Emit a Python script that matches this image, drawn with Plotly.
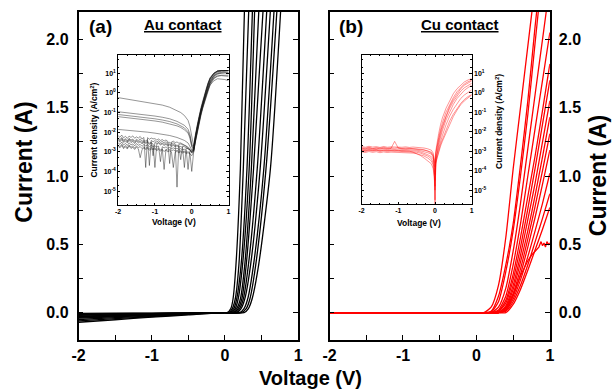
import numpy as np
import plotly.graph_objects as go

FONT = "Liberation Sans, Arial, sans-serif"

# ---------------- Main panel (a): Au contact, I-V (A) ----------------
AU_V_REV = [-2.0, -1.5, -1.0, -0.5, 0.0]
AU_I_REV = [
    [-0.005, -0.004, -0.003, -0.001, 0.0],
    [-0.010, -0.007, -0.005, -0.002, 0.0],
    [-0.015, -0.011, -0.007, -0.003, 0.0],
    [-0.020, -0.015, -0.010, -0.005, 0.0],
    [-0.025, -0.018, -0.012, -0.006, 0.0],
    [-0.030, -0.022, -0.014, -0.007, 0.0],
    [-0.035, -0.026, -0.017, -0.008, 0.0],
    [-0.040, -0.030, -0.019, -0.009, 0.0],
    [-0.050, -0.037, -0.024, -0.011, 0.0],
    [-0.060, -0.044, -0.028, -0.013, 0.0],
    [-0.070, -0.052, -0.033, -0.016, 0.0],
]
AU_I_FWD_LEVELS = [0.0, 0.03, 0.1, 0.35, 1.05, 2.3]
AU_V_FWD = [
    [0.03, 0.08, 0.11, 0.15, 0.21, 0.27],
    [0.05, 0.10, 0.14, 0.19, 0.25, 0.33],
    [0.06, 0.12, 0.16, 0.22, 0.30, 0.38],
    [0.08, 0.14, 0.18, 0.24, 0.33, 0.41],
    [0.10, 0.16, 0.21, 0.27, 0.36, 0.47],
    [0.12, 0.18, 0.23, 0.29, 0.39, 0.53],
    [0.14, 0.20, 0.25, 0.32, 0.44, 0.58],
    [0.16, 0.22, 0.27, 0.35, 0.48, 0.63],
    [0.20, 0.26, 0.31, 0.39, 0.53, 0.68],
    [0.22, 0.29, 0.34, 0.42, 0.56, 0.72],
    [0.26, 0.32, 0.37, 0.46, 0.62, 0.77],
]

# ---------------- Main panel (b): Cu contact, I-V (A) ----------------
CU_V_REV = [-2.0, 0.0]
CU_I_REV = [0.0, 0.0]
CU_V_FWD = [0.1, 0.2, 0.3, 0.4, 0.5, 0.6, 0.7, 0.8, 0.9, 1.0]
CU_I_FWD = [
    [0.0, 0.04, 0.20, 0.55, 1.05, 1.50, 1.95, 2.40, 2.85, 3.30],
    [0.0, 0.01, 0.12, 0.35, 0.65, 1.08, 1.55, 2.10, 2.60, 3.10],
    [0.0, 0.005, 0.08, 0.30, 0.60, 1.00, 1.45, 1.98, 2.50, 3.00],
    [0.0, 0.0, 0.04, 0.18, 0.45, 0.80, 1.20, 1.60, 2.00, 2.40],
    [0.0, 0.0, 0.02, 0.12, 0.35, 0.65, 1.00, 1.35, 1.70, 2.05],
    [0.0, 0.0, 0.01, 0.09, 0.28, 0.55, 0.85, 1.15, 1.48, 1.82],
    [0.0, 0.0, 0.01, 0.07, 0.24, 0.48, 0.76, 1.06, 1.38, 1.70],
    [0.0, 0.0, 0.0, 0.05, 0.20, 0.42, 0.68, 0.95, 1.25, 1.55],
    [0.0, 0.0, 0.0, 0.04, 0.17, 0.37, 0.60, 0.86, 1.14, 1.43],
    [0.0, 0.0, 0.0, 0.03, 0.14, 0.32, 0.54, 0.78, 1.04, 1.31],
    [0.0, 0.0, 0.0, 0.02, 0.12, 0.28, 0.48, 0.70, 0.94, 1.19],
    [0.0, 0.0, 0.0, 0.02, 0.10, 0.24, 0.41, 0.60, 0.80, 1.02],
    [0.0, 0.0, 0.0, 0.01, 0.08, 0.20, 0.35, 0.52, 0.69, 0.87],
    [0.0, 0.0, 0.0, 0.0, 0.06, 0.17, 0.31, 0.46, 0.61, 0.77],
]
CU_SAT_V = [0.1, 0.2, 0.3, 0.4, 0.5, 0.6, 0.7, 0.75, 0.8, 0.85, 0.88, 0.9, 0.92, 0.94, 0.96, 0.98, 1.0]
CU_SAT_I = [0.0, 0.0, 0.0, 0.03, 0.13, 0.27, 0.38, 0.42, 0.45, 0.48, 0.52, 0.49, 0.51, 0.48, 0.52, 0.50, 0.51]

# ---------------- Inset (a): log10 current density (A/cm2) ----------------
AU_IN_V_REV_COARSE = [-2.0, -1.8, -1.6, -1.4, -1.2, -1.0, -0.8, -0.6, -0.4, -0.3, -0.2, -0.1, -0.05, 0.0]
AU_IN_V_REV_FINE = [-2.0, -1.95, -1.9, -1.85, -1.8, -1.75, -1.7, -1.65, -1.6, -1.55,
                    -1.5, -1.45, -1.4, -1.35, -1.3, -1.25, -1.2, -1.15, -1.1, -1.05,
                    -1.0, -0.95, -0.9, -0.85, -0.8, -0.75, -0.7, -0.65, -0.6, -0.55,
                    -0.5, -0.45, -0.4, -0.35, -0.3, -0.25, -0.2, -0.15, -0.1, -0.05,
                    0.0]
AU_IN_V_FWD = [0.05, 0.1, 0.15, 0.2, 0.25, 0.3, 0.35, 0.4, 0.45, 0.5, 0.6, 0.7, 0.8, 0.9, 1.0]
AU_IN_LOGJ_SMOOTH_REV = [
    [-0.24, -0.30, -0.36, -0.42, -0.48, -0.54, -0.62, -0.73, -0.89, -1.00, -1.15, -1.40, -1.70, -2.30],
    [-0.96, -1.00, -1.04, -1.08, -1.13, -1.18, -1.24, -1.32, -1.45, -1.53, -1.65, -1.85, -2.10, -2.60],
    [-1.10, -1.14, -1.18, -1.22, -1.27, -1.32, -1.38, -1.46, -1.58, -1.66, -1.78, -1.98, -2.20, -2.70],
    [-1.21, -1.25, -1.29, -1.33, -1.38, -1.43, -1.49, -1.57, -1.68, -1.76, -1.88, -2.05, -2.30, -2.75],
    [-1.86, -1.89, -1.92, -1.96, -2.00, -2.05, -2.10, -2.17, -2.27, -2.33, -2.42, -2.55, -2.70, -2.90],
]
AU_IN_LOGJ_SMOOTH_FWD = [
    [-2.70, -2.10, -1.60, -1.15, -0.75, -0.40, -0.05, 0.30, 0.55, 0.78, 1.00, 1.10, 1.14, 1.14, 1.14],
    [-2.80, -2.20, -1.70, -1.25, -0.85, -0.50, -0.15, 0.20, 0.48, 0.72, 0.98, 1.10, 1.14, 1.14, 1.14],
    [-2.85, -2.25, -1.75, -1.30, -0.90, -0.55, -0.20, 0.12, 0.40, 0.62, 0.88, 0.98, 1.02, 1.04, 1.05],
    [-2.90, -2.30, -1.80, -1.35, -0.95, -0.60, -0.28, 0.02, 0.28, 0.50, 0.76, 0.86, 0.90, 0.90, 0.90],
    [-2.95, -2.40, -1.90, -1.45, -1.05, -0.70, -0.38, -0.08, 0.18, 0.40, 0.62, 0.72, 0.70, 0.68, 0.62],
]
AU_IN_LOGJ_NOISY_REV = [
    [-2.18, -2.26, -2.15, -2.29, -2.21, -2.32, -2.20, -2.27, -2.19, -2.31,
     -2.24, -2.30, -2.22, -2.35, -2.27, -3.80, -2.28, -2.36, -2.30, -2.34,
     -2.33, -2.40, -2.35, -2.42, -2.38, -2.45, -2.40, -2.47, -3.60, -2.50,
     -2.46, -2.53, -2.50, -2.56, -2.55, -2.60, -2.64, -2.70, -2.76, -2.84,
     -2.95],
    [-2.30, -2.38, -2.27, -2.41, -2.33, -2.44, -2.31, -2.40, -2.35, -2.46,
     -2.36, -2.43, -2.34, -2.47, -2.40, -2.45, -2.38, -3.70, -2.42, -2.49,
     -2.43, -2.50, -2.44, -2.52, -2.47, -2.55, -2.49, -2.56, -2.52, -2.58,
     -2.55, -2.60, -4.80, -2.62, -2.60, -2.66, -2.68, -2.72, -2.80, -2.88,
     -3.00],
    [-2.42, -2.50, -2.38, -2.52, -2.45, -2.55, -2.41, -2.53, -2.47, -2.58,
     -2.46, -2.55, -2.49, -2.60, -2.50, -2.57, -2.52, -2.62, -2.55, -2.60,
     -3.80, -2.62, -2.56, -2.65, -2.60, -2.68, -2.62, -2.70, -2.65, -2.72,
     -2.68, -2.74, -2.70, -2.76, -2.73, -2.78, -3.80, -2.80, -2.85, -2.90,
     -3.00],
    [-2.55, -2.62, -2.50, -2.66, -2.57, -2.68, -2.54, -2.65, -2.60, -2.70,
     -2.58, -2.67, -2.62, -2.72, -2.63, -2.70, -2.65, -2.74, -2.68, -2.73,
     -2.70, -2.76, -2.71, -3.50, -2.74, -2.80, -2.75, -2.82, -2.78, -2.84,
     -2.80, -2.85, -2.82, -2.88, -2.84, -2.90, -2.87, -2.92, -3.90, -2.95,
     -3.05],
    [-2.66, -2.74, -2.62, -2.78, -2.68, -2.80, -2.65, -2.77, -2.70, -2.82,
     -2.70, -2.79, -2.73, -2.84, -2.75, -2.82, -2.76, -2.86, -2.78, -2.84,
     -2.80, -2.88, -2.82, -2.90, -2.85, -3.90, -2.86, -2.92, -2.88, -2.95,
     -2.90, -2.96, -2.92, -2.98, -2.95, -3.00, -2.97, -3.02, -3.00, -3.05,
     -4.00],
    [-2.72, -2.80, -2.68, -2.84, -2.74, -2.86, -2.70, -2.83, -2.77, -2.88,
     -2.76, -2.85, -3.30, -2.90, -2.80, -2.88, -2.82, -2.92, -2.85, -2.90,
     -2.86, -2.94, -2.88, -2.96, -2.90, -2.98, -2.92, -3.00, -2.95, -3.02,
     -3.80, -3.02, -2.98, -3.05, -3.00, -3.06, -3.02, -3.08, -3.05, -3.10,
     -3.20],
    [-2.36, -2.44, -2.32, -2.47, -2.38, -2.50, -2.35, -2.46, -2.40, -2.52,
     -2.42, -2.49, -2.44, -2.54, -2.46, -2.52, -2.47, -2.56, -2.50, -3.20,
     -2.52, -2.58, -2.53, -2.60, -2.56, -2.62, -2.58, -2.64, -2.60, -2.66,
     -2.63, -2.68, -2.66, -2.70, -3.40, -2.72, -2.74, -2.78, -2.84, -2.90,
     -3.05],
]
AU_IN_LOGJ_NOISY_FWD = [
    [-2.80, -2.15, -1.65, -1.20, -0.80, -0.45, -0.10, 0.25, 0.52, 0.75, 1.00, 1.12, 1.14, 1.14, 1.14],
    [-2.90, -2.25, -1.75, -1.30, -0.90, -0.55, -0.20, 0.15, 0.45, 0.70, 0.95, 1.10, 1.14, 1.14, 1.14],
    [-2.95, -2.35, -1.85, -1.40, -1.00, -0.62, -0.28, 0.05, 0.35, 0.60, 0.90, 1.05, 1.10, 1.12, 1.14],
    [-3.00, -2.45, -1.95, -1.50, -1.10, -0.72, -0.38, -0.05, 0.25, 0.50, 0.80, 0.95, 1.00, 1.02, 1.02],
    [-3.05, -2.50, -2.00, -1.55, -1.15, -0.78, -0.45, -0.12, 0.18, 0.42, 0.72, 0.85, 0.88, 0.86, 0.84],
    [-3.00, -2.40, -1.90, -1.45, -1.05, -0.68, -0.32, 0.00, 0.30, 0.55, 0.85, 1.00, 1.06, 1.10, 1.12],
    [-2.85, -2.20, -1.70, -1.25, -0.85, -0.50, -0.15, 0.20, 0.50, 0.74, 1.00, 1.12, 1.14, 1.14, 1.14],
]

# ---------------- Inset (b): log10 current density (A/cm2) ----------------
CU_IN_V_REV = [-2.0, -1.9, -1.8, -1.7, -1.6, -1.5, -1.4, -1.3, -1.2, -1.1,
               -1.0, -0.9, -0.8, -0.7, -0.6, -0.5, -0.4, -0.3, -0.2, -0.1,
               -0.05, -0.02, 0.0]
CU_IN_V_FWD = [0.02, 0.05, 0.1, 0.15, 0.2, 0.3, 0.4, 0.5, 0.6, 0.7, 0.8, 0.9, 1.0]
CU_IN_LOGJ_REV = [
    [-2.76, -2.80, -2.75, -2.79, -2.77, -2.81, -2.76, -2.80, -2.78, -2.79,
     -2.77, -2.80, -2.78, -2.81, -2.79, -2.80, -2.82, -2.84, -2.88, -2.95, -3.10, -3.40, -3.60],
    [-2.82, -2.85, -2.80, -2.86, -2.83, -2.84, -2.81, -2.86, -2.83, -2.85,
     -2.82, -2.86, -2.84, -2.85, -2.86, -2.88, -2.90, -2.93, -2.98, -3.05, -3.20, -3.50, -3.80],
    [-2.88, -2.92, -2.86, -2.91, -2.89, -2.90, -2.87, -2.92, -2.88, -2.91,
     -2.89, -2.90, -2.92, -2.91, -2.93, -2.95, -2.98, -3.02, -3.08, -3.15, -3.30, -3.70, -6.00],
    [-2.93, -2.96, -2.91, -2.95, -2.92, -2.97, -2.93, -2.96, -2.94, -2.95,
     -2.93, -2.97, -2.95, -2.96, -2.98, -3.00, -3.04, -3.10, -3.18, -3.28, -3.40, -3.80, -4.50],
    [-2.98, -3.02, -2.96, -3.00, -2.97, -3.01, -2.98, -3.02, -2.99, -3.00,
     -2.98, -3.01, -3.00, -3.02, -3.03, -3.06, -3.10, -3.16, -3.25, -3.38, -3.60, -4.00, -5.00],
    [-3.04, -3.07, -3.02, -3.06, -3.03, -3.08, -3.04, -3.07, -3.05, -3.06,
     -3.04, -3.08, -3.06, -3.08, -3.10, -3.13, -3.18, -3.25, -3.35, -3.50, -3.70, -4.20, -4.80],
    [-2.85, -2.88, -2.83, -2.87, -2.84, -2.88, -2.85, -2.87, -2.86, -2.50,
     -2.85, -2.88, -2.86, -2.87, -2.88, -2.90, -2.92, -2.95, -3.00, -3.10, -3.25, -3.60, -4.20],
    [-2.95, -2.98, -2.94, -2.97, -2.95, -2.99, -2.96, -2.98, -2.97, -2.98,
     -2.96, -2.99, -2.98, -3.00, -3.05, -3.12, -3.22, -3.35, -3.50, -3.65, -3.90, -4.30, -5.50],
]
CU_IN_LOGJ_FWD = [
    [-3.00, -2.60, -2.10, -1.65, -1.30, -0.80, -0.38, -0.05, 0.20, 0.40, 0.55, 0.65, 0.72],
    [-3.10, -2.75, -2.30, -1.90, -1.55, -1.00, -0.58, -0.25, 0.05, 0.28, 0.45, 0.56, 0.64],
    [-3.40, -3.00, -2.55, -2.15, -1.80, -1.25, -0.80, -0.45, -0.15, 0.08, 0.25, 0.38, 0.48],
    [-3.50, -3.10, -2.70, -2.30, -1.95, -1.40, -0.95, -0.60, -0.30, -0.06, 0.12, 0.26, 0.37],
    [-3.60, -3.20, -2.85, -2.50, -2.20, -1.65, -1.20, -0.85, -0.55, -0.30, -0.12, 0.02, 0.14],
    [-3.60, -3.30, -3.00, -2.65, -2.40, -1.90, -1.45, -1.10, -0.80, -0.55, -0.35, -0.20, -0.10],
    [-3.20, -2.85, -2.40, -2.00, -1.70, -1.15, -0.70, -0.35, -0.05, 0.20, 0.38, 0.50, 0.60],
    [-3.70, -3.40, -3.05, -2.75, -2.50, -2.05, -1.60, -1.22, -0.90, -0.62, -0.42, -0.25, -0.12],
]

# ---------------- Tick labels ----------------
MAIN_X_TICKS = [-2, -1, 0, 1]
MAIN_X_TICKTEXT = ["-2", "-1", "0", "1"]
MAIN_Y_TICKS = [0.0, 0.5, 1.0, 1.5, 2.0]
MAIN_Y_TICKTEXT = ["0.0", "0.5", "1.0", "1.5", "2.0"]
INSET_EXPONENTS = [1, 0, -1, -2, -3, -4, -5]
INSET_Y_TICKS = [10.0 ** e for e in INSET_EXPONENTS]
INSET_Y_TICKTEXT = ["10<sup>%s</sup>" % str(e) for e in INSET_EXPONENTS]

fig = go.Figure()

BLACK_MAIN = dict(color="black", width=1.3, shape="spline", smoothing=0.7)
RED_MAIN = dict(color="#ff0000", width=1.3, shape="spline", smoothing=0.6)

for irev, vf in zip(AU_I_REV, AU_V_FWD):
    fig.add_trace(go.Scatter(x=AU_V_REV + vf, y=irev + AU_I_FWD_LEVELS, mode="lines",
                             line=BLACK_MAIN, xaxis="x", yaxis="y", showlegend=False, hoverinfo="skip"))

for ifw in CU_I_FWD:
    fig.add_trace(go.Scatter(x=CU_V_REV + CU_V_FWD, y=CU_I_REV + ifw, mode="lines",
                             line=RED_MAIN, xaxis="x2", yaxis="y2", showlegend=False, hoverinfo="skip"))
fig.add_trace(go.Scatter(x=CU_V_REV + CU_SAT_V, y=CU_I_REV + CU_SAT_I, mode="lines",
                         line=dict(color="#ff0000", width=1.3), xaxis="x2", yaxis="y2",
                         showlegend=False, hoverinfo="skip"))

INSET_A_LINE = dict(color="rgba(20,20,20,0.75)", width=0.6)
for rv, fw in zip(AU_IN_LOGJ_SMOOTH_REV, AU_IN_LOGJ_SMOOTH_FWD):
    assert len(rv) == len(AU_IN_V_REV_COARSE) and len(fw) == len(AU_IN_V_FWD)
    fig.add_trace(go.Scatter(x=AU_IN_V_REV_COARSE + AU_IN_V_FWD, y=10.0 ** np.array(rv + fw),
                             mode="lines", line=INSET_A_LINE, xaxis="x3", yaxis="y3",
                             showlegend=False, hoverinfo="skip"))
for rv, fw in zip(AU_IN_LOGJ_NOISY_REV, AU_IN_LOGJ_NOISY_FWD):
    assert len(rv) == len(AU_IN_V_REV_FINE) and len(fw) == len(AU_IN_V_FWD)
    fig.add_trace(go.Scatter(x=AU_IN_V_REV_FINE + AU_IN_V_FWD, y=10.0 ** np.array(rv + fw),
                             mode="lines", line=INSET_A_LINE, xaxis="x3", yaxis="y3",
                             showlegend=False, hoverinfo="skip"))

INSET_B_LINE = dict(color="rgba(255,0,0,0.6)", width=0.7)
for rv, fw in zip(CU_IN_LOGJ_REV, CU_IN_LOGJ_FWD):
    assert len(rv) == len(CU_IN_V_REV) and len(fw) == len(CU_IN_V_FWD)
    fig.add_trace(go.Scatter(x=CU_IN_V_REV + CU_IN_V_FWD, y=10.0 ** np.array(rv + fw),
                             mode="lines", line=INSET_B_LINE, xaxis="x4", yaxis="y4",
                             showlegend=False, hoverinfo="skip"))

W, H = 613, 391
def px_x(p):
    return p / W
def px_y(p):
    return 1 - p / H

tickfont_main = dict(family=FONT, size=16, color="black", weight="bold")
tickfont_inset = dict(family=FONT, size=7, color="black", weight="bold")

main_x = dict(range=[-2, 1], tickvals=MAIN_X_TICKS, ticktext=MAIN_X_TICKTEXT,
              ticks="inside", ticklen=5, tickwidth=1.2, tickcolor="black",
              minor=dict(ticks="inside", dtick=0.5, ticklen=5, tickwidth=1.2, tickcolor="black"),
              showline=True, linecolor="black", linewidth=1.5, mirror=True,
              showgrid=False, zeroline=False, tickfont=tickfont_main, fixedrange=True)
main_y = dict(range=[-0.2, 2.2], tickvals=MAIN_Y_TICKS, ticktext=MAIN_Y_TICKTEXT,
              ticks="inside", ticklen=5, tickwidth=1.2, tickcolor="black",
              minor=dict(ticks="inside", dtick=0.25, tick0=0, ticklen=5, tickwidth=1.2, tickcolor="black"),
              showline=True, linecolor="black", linewidth=1.5, mirror="allticks",
              showgrid=False, zeroline=False, tickfont=tickfont_main, fixedrange=True)
inset_x = dict(range=[-2, 1], tickvals=MAIN_X_TICKS, ticktext=MAIN_X_TICKTEXT,
               ticks="inside", ticklen=2.5, tickwidth=0.8, tickcolor="black",
               minor=dict(ticks="inside", dtick=0.25, ticklen=1.5, tickwidth=0.6, tickcolor="black"),
               showline=True, linecolor="black", linewidth=0.8, mirror="allticks",
               showgrid=False, zeroline=False, tickfont=tickfont_inset, ticklabelstandoff=0)
inset_y = dict(type="log", range=[-5.71, 1.93], tickvals=INSET_Y_TICKS, ticktext=INSET_Y_TICKTEXT,
               ticks="inside", ticklen=2.5, tickwidth=0.8, tickcolor="black",
               minor=dict(ticks="inside", dtick="D2", ticklen=1.5, tickwidth=0.6, tickcolor="black"),
               showline=True, linecolor="black", linewidth=0.8, mirror="allticks",
               showgrid=False, zeroline=False, tickfont=tickfont_inset, ticklabelstandoff=0)

fig.update_layout(
    width=W, height=H, autosize=False,
    margin=dict(l=0, r=0, t=0, b=0, pad=0),
    paper_bgcolor="white", plot_bgcolor="white",
    showlegend=False,
    xaxis=dict(main_x, domain=[px_x(73), px_x(297)], anchor="y"),
    yaxis=dict(main_y, domain=[px_y(340), px_y(12)], anchor="x", ticklabelstandoff=5),
    xaxis2=dict(main_x, domain=[px_x(329), px_x(553.7)], anchor="y2"),
    yaxis2=dict(main_y, domain=[px_y(340), px_y(12)], anchor="x2", side="right", ticklabelstandoff=4),
    xaxis3=dict(inset_x, domain=[px_x(113.3), px_x(226)], anchor="y3"),
    yaxis3=dict(inset_y, domain=[px_y(205), px_y(55)], anchor="x3"),
    xaxis4=dict(inset_x, domain=[px_x(361.7), px_x(474)], anchor="y4"),
    yaxis4=dict(inset_y, domain=[px_y(204), px_y(55)], anchor="x4", side="right"),
)

def ann(text, x, y, size, angle=0):
    fig.add_annotation(text=text, x=px_x(x), y=px_y(y), xref="paper", yref="paper",
                       xanchor="center", yanchor="middle", showarrow=False, textangle=angle,
                       font=dict(family=FONT, size=size, color="black", weight="bold"))

ann("(a)", 95, 27, 19)
ann("<u>Au contact</u>", 180, 24.5, 15)
ann("(b)", 350.5, 27, 19)
ann("<u>Cu contact</u>", 462.5, 24.5, 15)
ann("Current (A)", 17, 162, 23, -90)
ann("Current (A)", 603, 176, 23, -90)
ann("Voltage (V)", 310, 378, 20)
ann("Current density (A/cm<sup>2</sup>)", 89.3, 130, 8.5, -90)
ann("Voltage (V)", 170, 221.5, 8.5)
ann("Current density (A/cm<sup>2</sup>)", 501.7, 121, 8.5, -90)
ann("Voltage (V)", 420, 222.7, 8.5)

fig.write_html("out.html", config={"displayModeBar": False})
